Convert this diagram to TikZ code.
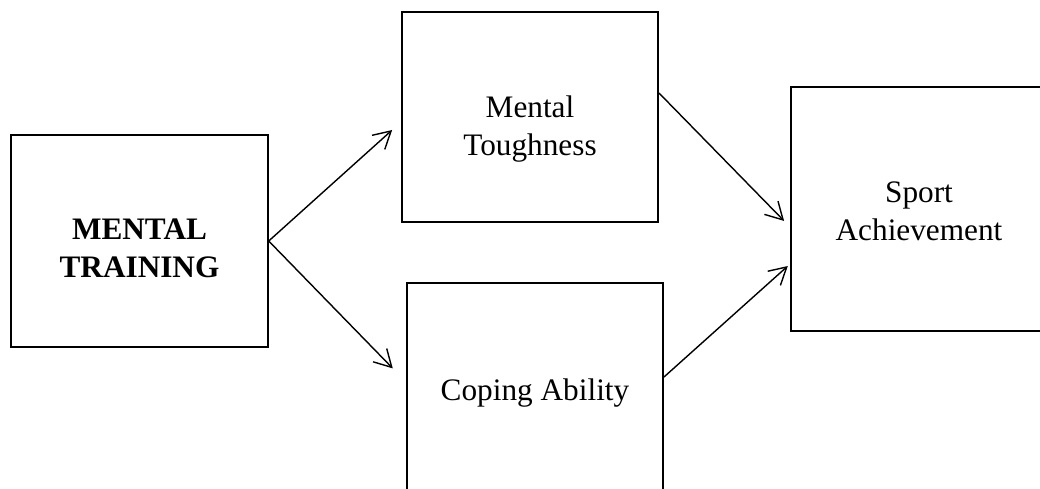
\documentclass[tikz,border=0pt]{standalone}
\usepackage{fontspec}
\setmainfont{Liberation Serif}
\usepackage{tikz}
\usetikzlibrary{arrows.meta, calc}
\tikzset{
	blocknode/.style={
			rectangle,
			draw=black,
			line width=0.85pt,
			inner sep=0pt,
			minimum width=5.13cm
		},
	blocktext/.style={
			align=center,
			inner sep=0pt,
			font=\fontsize{17.8}{21.6}\selectfont
		},
	linkarrow/.style={
			line width=0.8pt,
			-{Straight Barb[length=3.4mm, width=3.8mm]}
		}
}
\begin{document}
\begin{tikzpicture}[x=0.02cm, y=-0.02cm]
\useasboundingbox (0,0) rectangle (1040,488);
\clip (0,0) rectangle (1040,488);

\node (n1) at (139.5,241) [blocknode, minimum width=5.14cm, minimum height=4.24cm] {};
\node (n2) at (530,117) [blocknode, minimum height=4.2cm] {};
\node (n3) at (535,388) [blocknode, minimum height=4.2cm] {};
\node (n4) at (919,209) [blocknode, minimum height=4.88cm] {};

\node (n1t) at ($(n1)+(0,7)$) [blocktext] {\textbf{MENTAL}\\\textbf{TRAINING}};
\node (n2t) at ($(n2)+(0,12)$) [blocktext] {Mental\\Toughness};
\node (n3t) at ($(n3)+(0,5)$) [blocktext] {Coping Ability};
\node (n4t) at ($(n4)+(0,2)$) [blocktext] {Sport\\Achievement};

\draw[linkarrow, shorten >=0.24cm] (n1.east) -- ($(n2.west)+(0,5)$);
\draw[linkarrow, shorten >=0.38cm] (n1.east) -- ($(n3.west)+(0,-6)$);

\draw[linkarrow, shorten >=0.17cm] ($(n2.east)+(0,-24)$) -- ($(n4.west)+(0,18)$);
\draw[linkarrow, shorten >=0.06cm] ($(n3.east)+(0,-11)$) -- ($(n4.west)+(0,55)$);

\end{tikzpicture}
\end{document}
